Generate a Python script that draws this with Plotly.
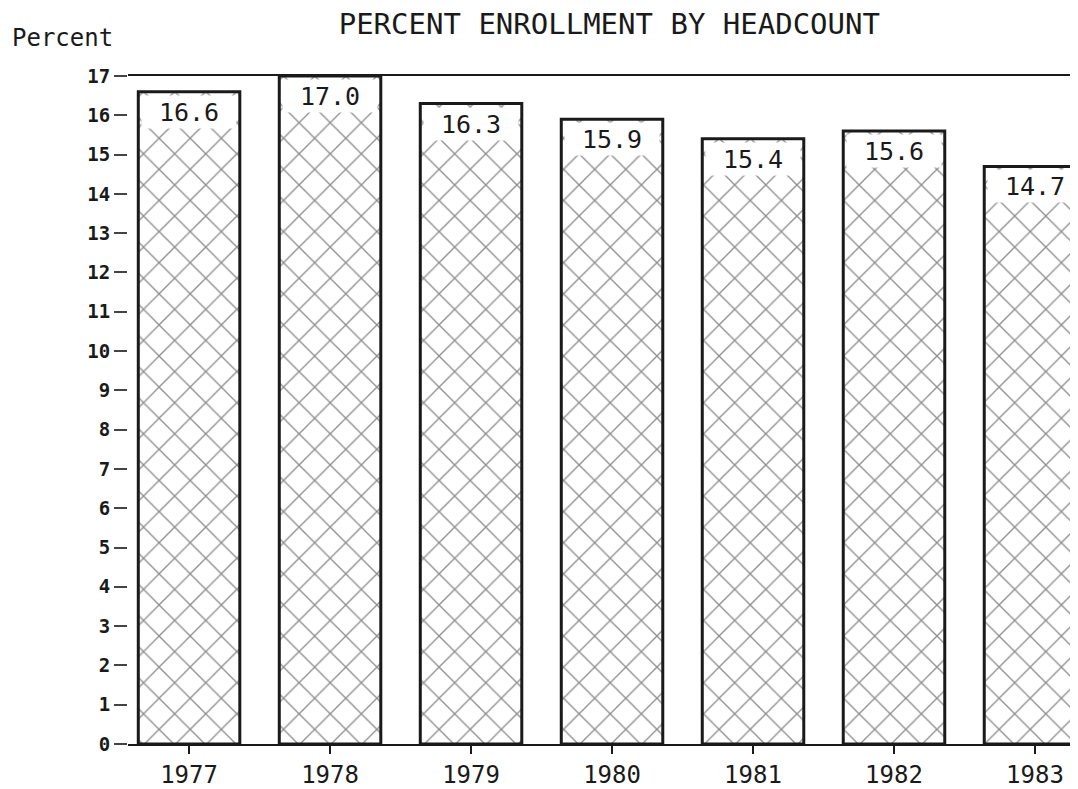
import plotly.graph_objects as go

years = ["1977", "1978", "1979", "1980", "1981", "1982", "1983"]
percent = [16.6, 17.0, 16.3, 15.9, 15.4, 15.6, 14.7]
y_ticks = list(range(0, 18))

MONO = "DejaVu Sans Mono"

fig = go.Figure()
fig.add_trace(go.Bar(
    x=years,
    y=percent,
    width=0.72,
    marker=dict(
        color="white",
        line=dict(color="#1a1a1a", width=3),
        pattern=dict(shape="x", size=22, solidity=0.12, fgcolor="#1e1e1e", bgcolor="white"),
    ),
    hoverinfo="x+y",
    showlegend=False,
))

for i, (yr, v) in enumerate(zip(years, percent)):
    fig.add_annotation(
        x=i, y=v, xref="x", yref="y",
        text=f"{v:.1f}",
        showarrow=False,
        yanchor="top", yshift=-3,
        width=94, height=32,
        bgcolor="white",
        borderpad=0,
        font=dict(family=MONO, size=25, color="#1a1a1a"),
    )

fig.add_annotation(
    x=-0.124, y=1.057, xref="paper", yref="paper",
    text="Percent", showarrow=False,
    xanchor="left", yanchor="middle",
    font=dict(family=MONO, size=24, color="#1a1a1a"),
)

fig.update_layout(
    width=1070, height=781,
    margin=dict(l=120, r=0, t=68, b=35),
    paper_bgcolor="white", plot_bgcolor="white",
    title=dict(
        text="PERCENT ENROLLMENT BY HEADCOUNT",
        x=0.562, xanchor="center", xref="container",
        y=1.0, yanchor="top", yref="container",
        pad=dict(t=6, b=0, l=0, r=0),
        font=dict(family=MONO, size=29, color="#1a1a1a"),
    ),
    bargap=0.28,
)

fig.update_xaxes(
    type="category",
    range=[-0.433, 6.305],
    showline=True, linecolor="#1a1a1a", linewidth=2, mirror=True,
    ticks="outside", ticklen=8, tickwidth=2, tickcolor="#1a1a1a",
    tickfont=dict(family=MONO, size=24, color="#1a1a1a"),
    showgrid=False, zeroline=False,
)
fig.update_yaxes(
    range=[0, 17],
    tickvals=y_ticks,
    showline=False,
    ticks="outside", ticklen=13, tickwidth=2, tickcolor="#444",
    tickfont=dict(family=MONO, size=19, color="#1a1a1a", weight="bold"),
    showgrid=False, zeroline=False,
)

fig.write_html("out.html")
